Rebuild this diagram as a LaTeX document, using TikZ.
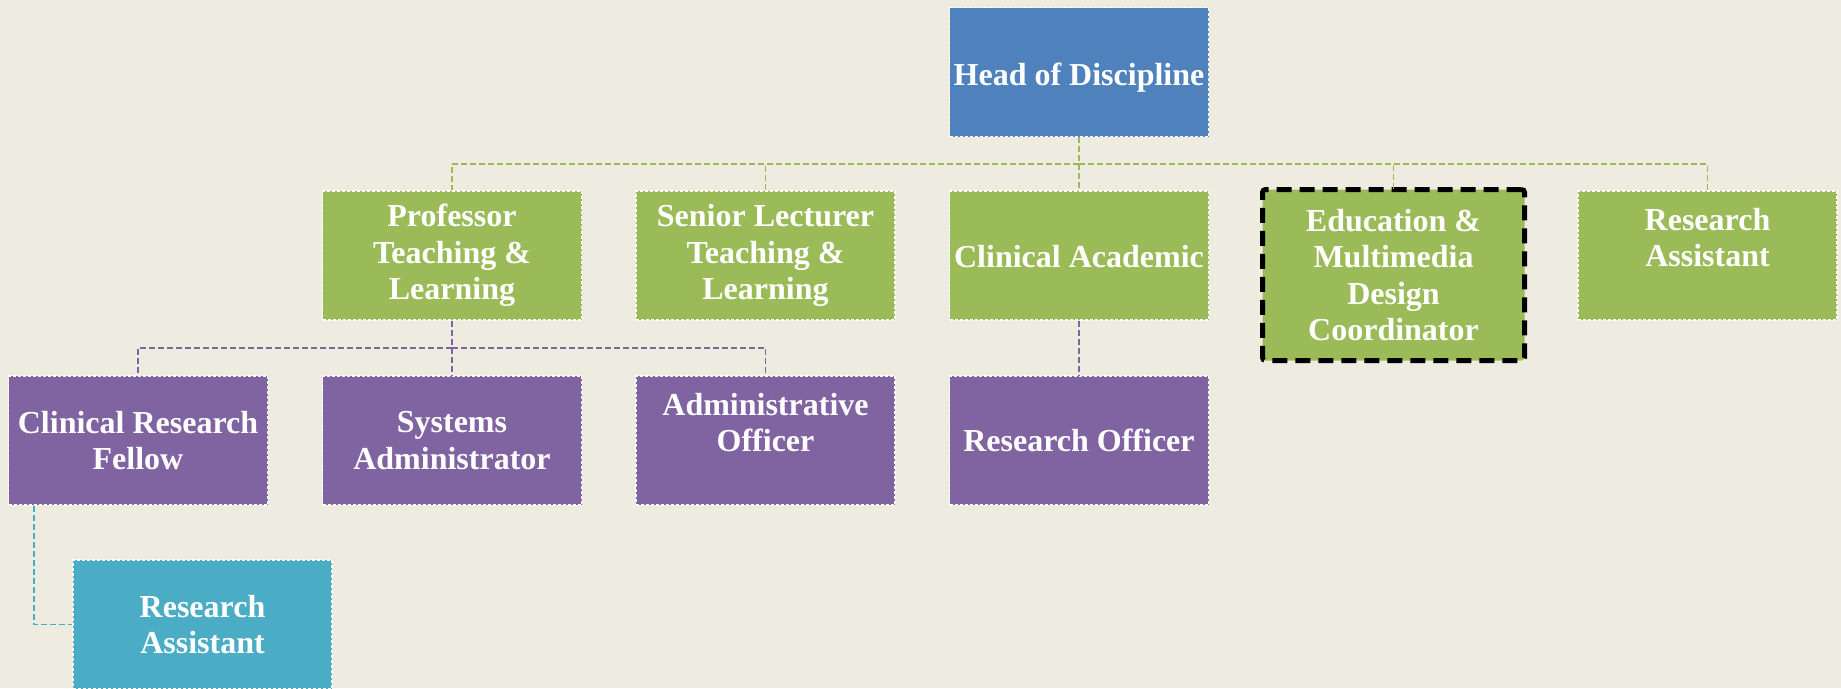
\documentclass[tikz,border=0pt]{standalone}
\usepackage{fontspec}
\setmainfont{Liberation Serif}
\definecolor{bgtan}{HTML}{EEECE1}
\definecolor{headblue}{HTML}{4F81BD}
\definecolor{rolegreen}{HTML}{9BBB59}
\definecolor{staffpurple}{HTML}{8064A2}
\definecolor{assistteal}{HTML}{4BACC6}
\begin{document}
\begin{tikzpicture}[x=1pt,y=-1pt,
        post/.style={draw=white, line width=1.2pt, dash pattern=on 3pt off 2pt, text=white,
            font=\fontsize{32}{36.5}\selectfont\bfseries, align=center,
            minimum width=259pt, minimum height=129pt, inner sep=0pt},
        link/.style={line width=1.8pt, dash pattern=on 6pt off 3pt}]
        \fill[bgtan] (0,0) rectangle (1841,688);
        \useasboundingbox (0,0) rectangle (1841,688);
        \node[post, fill=headblue, text height=33pt] (head) at (1079,72) {Head of Discipline};
        \node[post, fill=rolegreen] (prof) at (452,255.5) {Professor\\Teaching \&\\Learning};
        \node[post, fill=rolegreen] (senior) at (765.5,255.5) {Senior Lecturer\\Teaching \&\\Learning};
        \node[post, fill=rolegreen, text height=25pt] (clin) at (1079,255.5) {Clinical Academic};
        \node[post, fill=rolegreen, draw=black, line width=5pt, dash pattern=on 15pt off 8pt,
            rounded corners=3pt, minimum width=262pt, minimum height=171pt] (edu) at (1393.5,275)
            {Education \&\\Multimedia\\Design\\Coordinator};
        \node[post, fill=rolegreen] (resasst) at (1707.5,255.5) {Research\\Assistant\\~};
        \node[post, fill=staffpurple] (fellow) at (138,440.5) {Clinical Research\\Fellow};
        \node[post, fill=staffpurple] (sysadmin) at (452,440.5) {Systems\\Administrator};
        \node[post, fill=staffpurple] (admin) at (765.5,440.5) {Administrative\\Officer\\~};
        \node[post, fill=staffpurple] (resoff) at (1079,440.5) {Research Officer};
        \node[post, fill=assistteal] (fellowasst) at (202.5,624.5) {Research\\Assistant};
        \foreach \n in {prof,senior,clin,resasst}
            \draw[link, rolegreen] (head.south) -- ++(0,27) -| (\n.north);
        \draw[link, rolegreen] (head.south) -- ++(0,27) -| ([yshift=-3pt]edu.north);
        \foreach \n in {fellow,sysadmin,admin}
            \draw[link, staffpurple] (prof.south) -- ++(0,27) -| (\n.north);
        \draw[link, staffpurple] (clin.south) -- (resoff.north);
        \draw[link, assistteal] ([xshift=26pt]fellow.south west) |- (fellowasst.west);
\end{tikzpicture}
\end{document}
